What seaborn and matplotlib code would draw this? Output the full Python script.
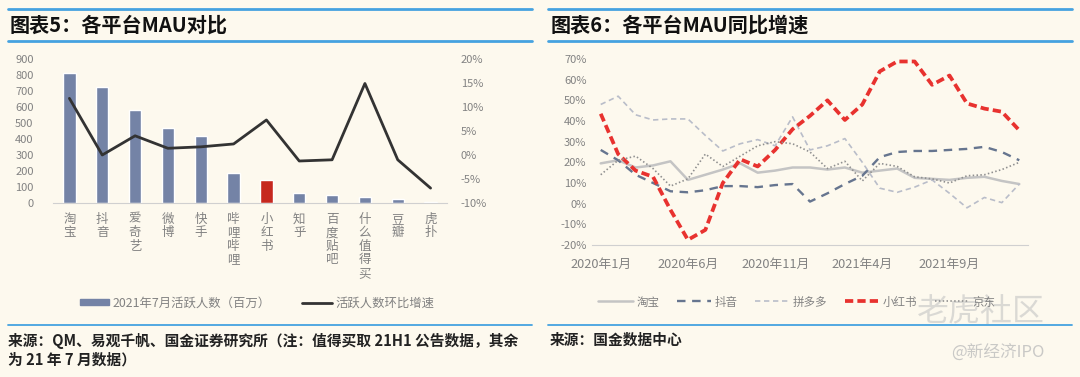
import numpy as np
import matplotlib
matplotlib.use("Agg")
import matplotlib.pyplot as plt
import seaborn as sns
from matplotlib.lines import Line2D
from matplotlib.patches import Patch

sns.set_style("white")
plt.rcParams["font.family"] = ["Noto Sans CJK SC", "DejaVu Sans"]

# --- data: left chart (MAU, Jul 2021) ---
platforms = ["淘宝", "抖音", "爱奇艺", "微博", "快手", "哔哩哔哩", "小红书",
             "知乎", "百度贴吧", "什么值得买", "豆瓣", "虎扑"]
mau = [815, 725, 581, 469, 419, 187, 144, 64, 50, 36, 23, 8]
mom_growth = [11.8, 0.0, 4.0, 1.4, 1.7, 2.3, 7.3, -1.25, -1.0, 14.9, -1.0, -6.9]

# --- data: right chart (YoY MAU growth, %) ---
months = ["2020年1月", "2020年2月", "2020年3月", "2020年4月", "2020年5月",
          "2020年6月", "2020年7月", "2020年8月", "2020年9月", "2020年10月",
          "2020年11月", "2020年12月", "2021年1月", "2021年2月", "2021年3月",
          "2021年4月", "2021年5月", "2021年6月", "2021年7月", "2021年8月",
          "2021年9月", "2021年10月", "2021年11月", "2021年12月", "2022年1月"]
taobao = [19.5, 21, 17.5, 18.5, 20.5, 11.5, 14, 16.5, 19.5, 15, 16, 17.5, 17.5,
          16.5, 17.5, 15, 16, 17, 12.5, 12, 11.5, 12.5, 13, 11, 9.5]
douyin = [26, 21, 14, 10, 6, 5.5, 6.5, 8.5, 8.5, 8, 9, 9.5, 1, 5, 9.5, 13.5,
          22.5, 25, 25.5, 25.5, 26, 26.5, 27.5, 25, 21]
pdd = [48, 52, 43, 40.5, 41, 41, 33, 25.5, 29, 31, 28, 42, 26, 28, 31.5, 20,
       7.5, 5.5, 8, 11.5, 5, -2, 3, 0.5, 9.5]
xhs = [43.5, 24, 16, 13, -3, -17.5, -12.7, 10, 21.5, 18, 26, 36, 42.5, 50,
       40.5, 48, 64, 68.8, 68.8, 57.5, 62, 48.5, 46, 44.5, 35.5]
jd = [14, 21, 23, 17, 8.5, 12, 24, 18, 23, 28, 30, 29, 25, 17, 20.5, 11, 19.5,
      18, 13, 12, 10, 13.5, 14, 16.5, 20]

W, H = 1080, 377
BG = "#fdf9ee"
GRAY = "#828282"
BLUE = "#45a2e0"


def box(x0, y0, x1, y1):
    return [x0 / W, 1 - y1 / H, (x1 - x0) / W, (y1 - y0) / H]


def hline(x0, x1, y, lw):
    fig.add_artist(Line2D([x0 / W, x1 / W], [1 - y / H, 1 - y / H],
                          color=BLUE, lw=lw, transform=fig.transFigure))


fig = plt.figure(figsize=(W / 100, H / 100), dpi=100, facecolor=BG)

# --- frames, titles, sources ---
for x0, x1 in [(8, 532), (548, 1072)]:
    hline(x0, x1, 9, 2.0)
    hline(x0, x1, 41, 2.0)
    hline(x0, x1, 325, 1.3)

fig.text(10 / W, 1 - 25 / H, "图表5：各平台MAU对比", fontsize=14.5,
         weight="bold", va="center", color="#111111")
fig.text(551 / W, 1 - 25 / H, "图表6：各平台MAU同比增速", fontsize=14.5,
         weight="bold", va="center", color="#111111")
fig.text(8 / W, 1 - 341 / H,
         "来源：QM、易观千帆、国金证券研究所（注：值得买取 21H1 公告数据，其余",
         fontsize=10.6, weight="bold", va="center", color="#222222")
fig.text(8 / W, 1 - 360 / H, "为 21 年 7 月数据）", fontsize=10.6,
         weight="bold", va="center", color="#222222")
fig.text(550 / W, 1 - 340 / H, "来源：国金数据中心", fontsize=10.6,
         weight="bold", va="center", color="#222222")

# watermark
fig.text(1045 / W, 1 - 312 / H, "老虎社区", fontsize=23, color="#c4c4c4",
         alpha=0.6, ha="right", va="center")
fig.text(1045 / W, 1 - 352 / H, "@新经济IPO", fontsize=12, color="#bdbdbd",
         alpha=0.8, ha="right", va="center")

# --- left chart ---
ax1 = fig.add_axes(box(53, 59, 447, 203))
ax1.set_facecolor("none")
bar_colors = ["#c6281f" if p == "小红书" else "#7483a6" for p in platforms]
sns.barplot(x=platforms, y=mau, hue=platforms, palette=bar_colors,
            legend=False, saturation=1, width=0.38, ax=ax1)
ax1.set_xlim(-0.5, len(platforms) - 0.5)
ax1.set_ylim(0, 900)
ax1.set_yticks(range(0, 901, 100))
ax1.set_xticks(range(len(platforms)))
ax1.set_xticklabels(["\n".join(p) for p in platforms], fontsize=9,
                    linespacing=1.05)
ax1.set_xticks(np.arange(-0.5, len(platforms), 1), minor=True)
ax1.tick_params(axis="x", which="major", length=0, pad=7, labelcolor=GRAY)
ax1.tick_params(axis="x", which="minor", length=3, color="#d0d0d0")
ax1.tick_params(axis="y", length=0, labelsize=8, labelcolor=GRAY, pad=14)

ax2 = ax1.twinx()
sns.lineplot(x=np.arange(len(platforms)), y=mom_growth, ax=ax2,
             color="#333333", lw=2)
ax2.set_ylim(-10, 20)
ax2.set_yticks(range(-10, 21, 5))
ax2.set_yticklabels([f"{v}%" for v in range(-10, 21, 5)])
ax2.tick_params(axis="y", length=0, labelsize=8, labelcolor=GRAY, pad=10)

for ax in (ax1, ax2):
    for s in ax.spines.values():
        s.set_visible(False)
ax1.spines["bottom"].set_visible(True)
ax1.spines["bottom"].set_color("#d0d0d0")

handles = [Patch(color="#7483a6"), Line2D([], [], color="#333333", lw=2)]
fig.legend(handles, ["2021年7月活跃人数（百万）", "活跃人数环比增速"],
           loc="center", bbox_to_anchor=(257 / W, 1 - 303 / H), ncol=2,
           frameon=False, fontsize=8.9, labelcolor=GRAY, handlelength=2.4,
           handleheight=0.45, handletextpad=0.3, columnspacing=2.5)

# --- right chart ---
ax3 = fig.add_axes(box(592, 59, 1028, 245))
ax3.set_facecolor("none")
idx = np.arange(len(months))
series = [
    ("淘宝", taobao, "#c4c4c4", 1.8, None),
    ("抖音", douyin, "#66758f", 1.7, [3.6, 2.8]),
    ("拼多多", pdd, "#b9bdc9", 1.2, [3.2, 2.2]),
    ("小红书", xhs, "#e8322f", 2.7, [2.2, 1.1]),
    ("京东", jd, "#8f8f8f", 1.2, [0.9, 1.4]),
]
lines = []
for name, vals, color, lw, dashes in series:
    sns.lineplot(x=idx, y=vals, ax=ax3, color=color, lw=lw)
    ln = ax3.lines[-1]
    if dashes:
        ln.set_dashes(dashes)
    lines.append(ln)

for s in ax3.spines.values():
    s.set_visible(False)
ax3.spines["bottom"].set_visible(True)
ax3.spines["bottom"].set_color("#d0d0d0")

ax3.set_xlim(-0.5, len(months) - 0.5)
ax3.set_ylim(-20, 70)
ax3.set_yticks(range(-20, 71, 10))
ax3.set_yticklabels([f"{v}%" for v in range(-20, 71, 10)])
ax3.set_xticks(idx[::5])
ax3.set_xticklabels(months[::5], fontsize=9.2)
ax3.set_xticks(np.arange(-0.5, len(months), 5), minor=True)
ax3.tick_params(axis="x", which="major", length=0, pad=9, labelcolor=GRAY)
ax3.tick_params(axis="x", which="minor", length=3, color="#d0d0d0")
ax3.tick_params(axis="y", length=0, labelsize=8, labelcolor=GRAY, pad=4)

fig.legend(lines, [s[0] for s in series], loc="center",
           bbox_to_anchor=(797 / W, 1 - 302 / H), ncol=5, frameon=False,
           fontsize=8.3, labelcolor=GRAY, handlelength=3.0,
           handletextpad=0.3, columnspacing=1.5)

fig.savefig("out.png", dpi=100, facecolor=BG)
